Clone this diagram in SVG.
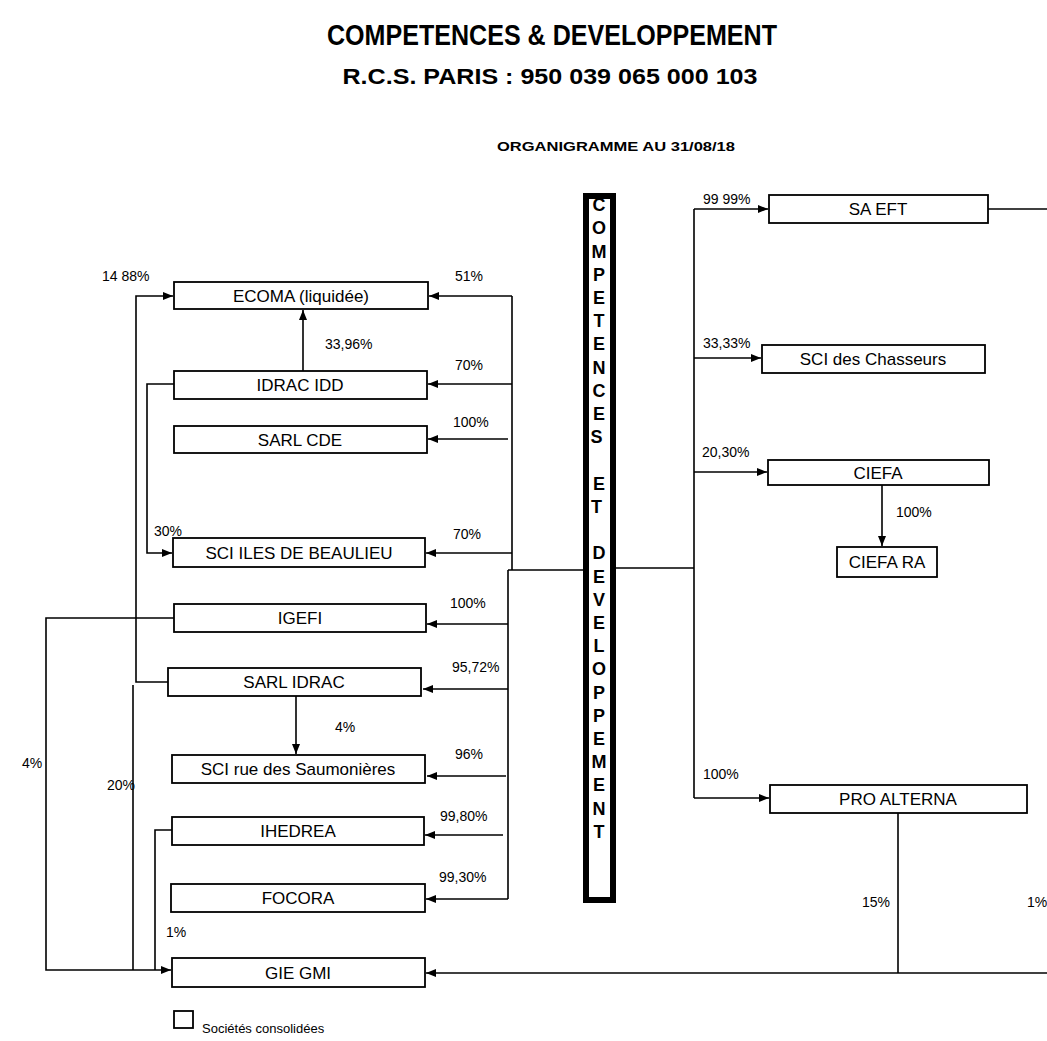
<svg xmlns="http://www.w3.org/2000/svg" width="1047" height="1041" viewBox="0 0 1047 1041">
<style>
.box{fill:#fff;stroke:#000;stroke-width:1.8}
.lbl{font-family:"Liberation Sans",Arial,sans-serif;font-size:17px;text-anchor:middle;fill:#000}
.pct{font-family:"Liberation Sans",Arial,sans-serif;font-size:14px;fill:#000}
.leg{font-family:"Liberation Sans",Arial,sans-serif;font-size:13px;fill:#000}
.ln{fill:none;stroke:#000;stroke-width:1.6}
.arr{fill:none;stroke:#000;stroke-width:1.6;marker-end:url(#ah)}
.bar{font-family:"Liberation Sans",Arial,sans-serif;font-size:18px;font-weight:bold;text-anchor:middle;fill:#000}
</style>
<defs>
<marker id="ah" markerWidth="10" markerHeight="8" refX="10" refY="4" orient="auto" markerUnits="userSpaceOnUse">
<path d="M0,0 L10,4 L0,8 Z" fill="#000"/>
</marker>
</defs>
<rect width="1047" height="1041" fill="#fff"/>
<g id="titles" font-family="'Liberation Sans',Arial,sans-serif" font-weight="bold" text-anchor="middle">
<text x="552" y="45" font-size="29" textLength="450" lengthAdjust="spacingAndGlyphs">COMPETENCES &amp; DEVELOPPEMENT</text>
<text x="550" y="84" font-size="22" textLength="415" lengthAdjust="spacingAndGlyphs">R.C.S. PARIS : 950 039 065 000 103</text>
<text x="616" y="151" font-size="13" textLength="238" lengthAdjust="spacingAndGlyphs">ORGANIGRAMME AU 31/08/18</text>
</g>
<g id="connectors">
<path class="ln" d="M583,570 H508 M512,296 V570 M508,570 V899"/>
<path class="arr" d="M512,296 H429"/>
<path class="arr" d="M512,384 H428"/>
<path class="arr" d="M508,439 H428"/>
<path class="arr" d="M512,553 H426"/>
<path class="arr" d="M508,624 H427"/>
<path class="arr" d="M508,689 H423"/>
<path class="arr" d="M506,776 H427"/>
<path class="arr" d="M503,835 H425"/>
<path class="arr" d="M508,899 H426"/>
<path class="arr" d="M168,682 H136 V296 H173"/>
<path class="arr" d="M303,371 V310"/>
<path class="arr" d="M174,384 H147 V553 H172"/>
<path class="arr" d="M174,618 H46 V970 H171"/>
<path class="ln" d="M133,685 V970"/>
<path class="ln" d="M172,830 H155 V970"/>
<path class="arr" d="M296,696 V754"/>
<path class="arr" d="M1047,973 H426"/>
<path class="ln" d="M898,813 V973"/>
<path class="ln" d="M616,568 H694 M694,209 V798"/>
<path class="arr" d="M694,209 H768"/>
<path class="arr" d="M694,358 H761"/>
<path class="arr" d="M694,472 H767"/>
<path class="arr" d="M694,798 H769"/>
<path class="ln" d="M988,209 H1047"/>
<path class="arr" d="M882,485 V546"/>
</g>
<g id="labels">
<text class="pct" x="102" y="281">14 88%</text>
<text class="pct" x="455" y="281">51%</text>
<text class="pct" x="325" y="349">33,96%</text>
<text class="pct" x="455" y="370">70%</text>
<text class="pct" x="453" y="427">100%</text>
<text class="pct" x="154" y="536">30%</text>
<text class="pct" x="453" y="539">70%</text>
<text class="pct" x="450" y="608">100%</text>
<text class="pct" x="452" y="672">95,72%</text>
<text class="pct" x="335" y="732">4%</text>
<text class="pct" x="455" y="759">96%</text>
<text class="pct" x="22" y="768">4%</text>
<text class="pct" x="107" y="790">20%</text>
<text class="pct" x="440" y="821">99,80%</text>
<text class="pct" x="439" y="882">99,30%</text>
<text class="pct" x="166" y="937">1%</text>
<text class="pct" x="703" y="204">99 99%</text>
<text class="pct" x="703" y="348">33,33%</text>
<text class="pct" x="702" y="457">20,30%</text>
<text class="pct" x="896" y="517">100%</text>
<text class="pct" x="703" y="779">100%</text>
<text class="pct" x="862" y="907">15%</text>
<text class="pct" x="1027" y="907">1%</text>
</g>
<g id="central">
<rect x="586" y="196" width="27" height="704" fill="#fff" stroke="#000" stroke-width="6"/>
<text class="bar">
<tspan x="599" y="211">C</tspan><tspan x="599" y="234">O</tspan><tspan x="599" y="258">M</tspan><tspan x="599" y="281">P</tspan><tspan x="599" y="304">E</tspan><tspan x="599" y="327">T</tspan><tspan x="599" y="350">E</tspan><tspan x="599" y="374">N</tspan><tspan x="599" y="397">C</tspan><tspan x="599" y="420">E</tspan><tspan x="599" y="443">S</tspan>
<tspan x="599" y="490">E</tspan><tspan x="599" y="513">T</tspan>
<tspan x="599" y="559">D</tspan><tspan x="599" y="583">E</tspan><tspan x="599" y="606">V</tspan><tspan x="599" y="629">E</tspan><tspan x="599" y="652">L</tspan><tspan x="599" y="675">O</tspan><tspan x="599" y="699">P</tspan><tspan x="599" y="722">P</tspan><tspan x="599" y="745">E</tspan><tspan x="599" y="768">M</tspan><tspan x="599" y="791">E</tspan><tspan x="599" y="815">N</tspan><tspan x="599" y="838">T</tspan>
</text>
</g>
<g id="ecoma"><rect class="box" x="174" y="282" width="254" height="27"/><text class="lbl" x="301" y="302">ECOMA (liquidée)</text></g>
<g id="idrac-idd"><rect class="box" x="174" y="371" width="253" height="28"/><text class="lbl" x="300" y="391">IDRAC IDD</text></g>
<g id="sarl-cde"><rect class="box" x="174" y="426" width="253" height="27"/><text class="lbl" x="300" y="446">SARL CDE</text></g>
<g id="sci-iles"><rect class="box" x="173" y="538" width="252" height="29"/><text class="lbl" x="299" y="559">SCI ILES DE BEAULIEU</text></g>
<g id="igefi"><rect class="box" x="174" y="604" width="252" height="28"/><text class="lbl" x="300" y="624">IGEFI</text></g>
<g id="sarl-idrac"><rect class="box" x="168" y="668" width="253" height="28"/><text class="lbl" x="294" y="688">SARL IDRAC</text></g>
<g id="sci-rue"><rect class="box" x="172" y="755" width="253" height="28"/><text class="lbl" x="298" y="775">SCI rue des Saumonières</text></g>
<g id="ihedrea"><rect class="box" x="172" y="817" width="252" height="28"/><text class="lbl" x="298" y="837">IHEDREA</text></g>
<g id="focora"><rect class="box" x="171" y="884" width="254" height="28"/><text class="lbl" x="298" y="904">FOCORA</text></g>
<g id="gie-gmi"><rect class="box" x="172" y="958" width="253" height="29"/><text class="lbl" x="298" y="979">GIE GMI</text></g>
<g id="sa-eft"><rect class="box" x="769" y="195" width="219" height="28"/><text class="lbl" x="878" y="215">SA EFT</text></g>
<g id="sci-chasseurs"><rect class="box" x="762" y="345" width="223" height="28"/><text class="lbl" x="873" y="365">SCI des Chasseurs</text></g>
<g id="ciefa"><rect class="box" x="768" y="460" width="221" height="25"/><text class="lbl" x="878" y="479">CIEFA</text></g>
<g id="ciefa-ra"><rect class="box" x="837" y="547" width="100" height="30"/><text class="lbl" x="887" y="568">CIEFA RA</text></g>
<g id="pro-alterna"><rect class="box" x="770" y="785" width="257" height="28"/><text class="lbl" x="898" y="805">PRO ALTERNA</text></g>
<g id="legend"><rect class="box" x="174" y="1011" width="19" height="17"/><text class="leg" x="202" y="1033">Sociétés consolidées</text></g>
</svg>
